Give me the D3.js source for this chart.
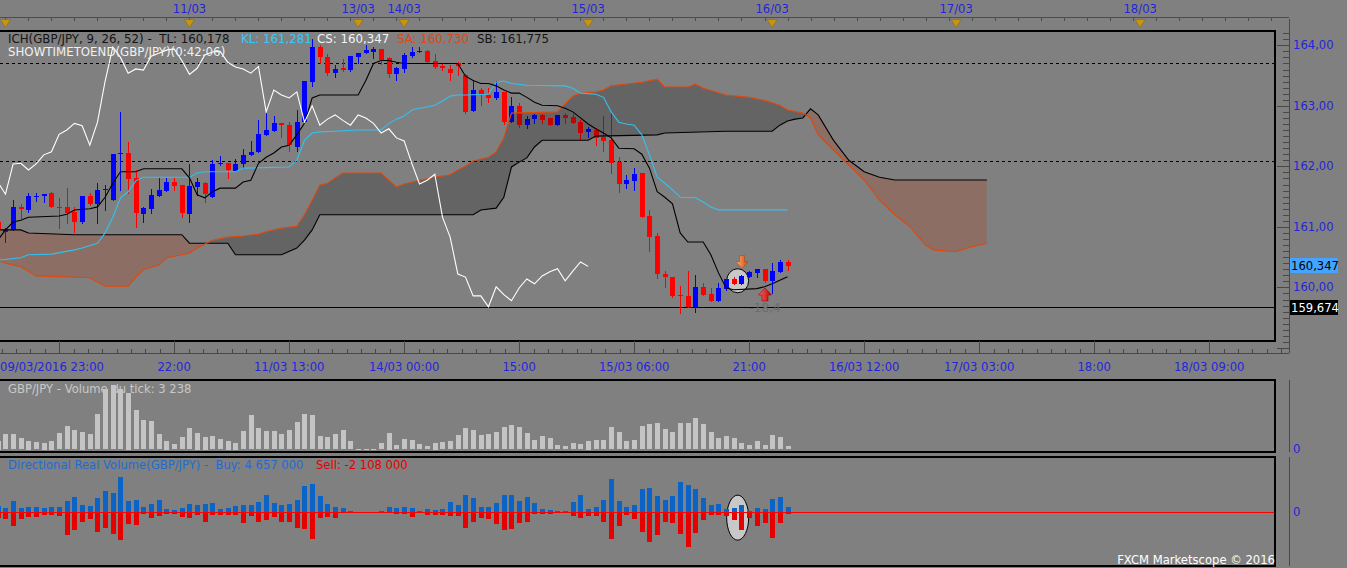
<!DOCTYPE html>
<html><head><meta charset="utf-8">
<script src="https://cdn.jsdelivr.net/npm/d3@7"></script>
<style>
html,body{margin:0;padding:0;background:#808080;overflow:hidden;}
svg{display:block;font-family:"DejaVu Sans",sans-serif;font-size:11.6px;}
svg text{white-space:pre;}
</style></head><body>
<svg id="c" width="1347" height="568"></svg>
<script>
// ---------------- DATA ----------------
const open=[161.08,160.92,160.95,161.33,161.28,161.49,161.51,161.56,161.33,161.33,
161.25,161.08,161.51,161.38,161.61,161.44,162.20,162.22,161.81,161.21,
161.30,161.51,161.59,161.74,161.69,161.21,161.66,161.72,161.49,162.04,
162.05,161.92,162.04,162.19,162.24,162.52,162.58,162.71,162.68,162.32,
162.73,163.39,163.97,163.80,163.54,163.62,163.59,163.80,163.87,163.89,
163.94,163.79,163.52,163.61,163.82,163.89,163.90,163.74,163.65,163.61,
163.70,163.51,162.91,163.26,163.18,163.13,163.23,162.73,163.00,162.68,
162.78,162.85,162.80,162.68,162.85,162.81,162.73,162.57,162.60,162.48,
162.43,162.07,161.71,161.76,161.89,161.18,160.85,160.22,160.17,159.88,
159.86,159.68,160.01,159.89,159.78,159.98,160.14,160.06,160.17,160.24,
160.31,160.11,160.26,160.42];
const high=[161.11,160.98,161.44,161.38,161.56,161.56,161.55,161.58,161.48,161.64,
161.33,161.51,161.56,161.72,161.69,162.20,162.90,162.40,161.94,161.33,
161.63,161.81,161.81,161.81,161.69,162.04,161.81,161.74,162.10,162.17,
162.05,162.12,162.29,162.42,162.76,162.88,162.83,162.71,162.73,162.93,
163.41,164.10,164.00,163.85,163.67,163.77,163.82,163.87,164.00,163.97,
163.94,163.80,163.64,163.87,163.97,163.97,163.92,163.85,163.70,163.67,
163.72,163.52,163.42,163.29,163.29,163.41,163.23,163.14,163.04,162.83,
162.86,162.86,162.80,162.85,162.88,162.86,162.76,162.65,162.63,162.83,
162.90,162.15,161.86,161.97,161.89,161.28,160.90,160.27,160.17,160.02,
160.27,160.21,160.07,159.99,160.07,160.14,160.17,160.21,160.27,160.31,
160.31,160.40,160.45,160.45];
const low=[160.92,160.75,160.95,161.15,161.25,161.43,161.41,161.33,160.98,161.06,
160.92,161.06,161.36,161.06,161.28,161.44,161.61,161.56,161.00,161.08,
161.23,161.51,161.59,161.61,161.16,161.08,161.53,161.41,161.49,162.02,
161.81,161.92,161.97,162.19,162.24,162.52,162.58,162.48,162.25,162.25,
162.71,163.33,163.70,163.51,163.47,163.57,163.57,163.70,163.87,163.79,
163.69,163.47,163.42,163.56,163.80,163.89,163.72,163.62,163.59,163.42,
163.51,162.88,162.91,163.01,163.06,163.11,162.70,162.73,162.65,162.63,
162.71,162.71,162.68,162.68,162.71,162.71,162.43,162.48,162.35,162.25,
161.89,161.58,161.64,161.61,161.16,160.60,160.16,160.01,159.84,159.58,
159.68,159.60,159.88,159.78,159.78,159.96,160.06,160.06,160.17,160.17,
160.09,159.91,160.26,160.29];
const close=[160.95,160.95,161.33,161.30,161.51,161.51,161.54,161.33,161.31,161.23,
161.08,161.51,161.38,161.61,161.63,162.20,162.22,161.79,161.23,161.31,
161.53,161.61,161.74,161.67,161.23,161.67,161.74,161.54,162.04,162.05,
161.94,162.04,162.19,162.24,162.53,162.60,162.71,162.67,162.35,162.73,
163.41,163.97,163.80,163.54,163.61,163.59,163.82,163.87,163.92,163.94,
163.75,163.52,163.62,163.84,163.89,163.90,163.72,163.64,163.61,163.54,
163.65,162.90,163.26,163.18,163.13,163.23,162.73,163.00,162.68,162.78,
162.85,162.76,162.68,162.85,162.80,162.71,162.55,162.62,162.47,162.42,
162.05,161.71,161.77,161.87,161.16,160.83,160.22,160.17,159.86,159.86,
159.68,160.01,159.88,159.78,159.99,160.14,160.06,160.19,160.26,160.31,
160.11,160.27,160.42,160.347];
const tickVolume=[8700,15300,15300,11300,8700,7300,6700,8700,16000,23300,
19300,17700,15300,35300,60000,64300,60000,56700,39300,29300,
28300,15300,8700,5300,12000,21000,16700,12700,13300,10300,
8700,6700,18300,34300,21000,18300,18300,15300,19300,27000,
35300,34300,13300,12000,15300,19300,8300,700,700,700,
6000,16700,4300,10300,9300,5300,3300,6700,7300,8300,
14300,21000,19300,14300,15300,17300,22300,24300,22300,16300,
9300,13300,11000,4300,3300,6300,5300,8700,9300,9300,
22300,17300,8300,9300,23300,25300,26300,20300,17300,26300,
26300,31300,25300,17300,11300,13300,11300,6300,4300,8300,
4300,14300,12300,3238];
// directional real volume, thousands
const buyVolume=[5550,4150,9950,4150,4650,4650,3800,4650,4400,9950,
13450,6400,5550,12600,18750,17000,31050,9950,10800,4650,
7300,10800,2900,2000,3800,7300,6400,7300,8200,2900,
3800,5550,6400,6400,9050,15200,8200,6400,7300,10800,
23150,24900,14350,7300,4650,3800,1150,0,0,0,
1150,4650,3800,4650,3800,1150,2900,2000,2900,9050,
6400,15200,12600,4650,4650,8200,15200,15200,9950,13450,
8200,2900,2000,1150,1150,9050,15200,2900,4650,10800,
29300,9950,4650,6400,20500,21400,14350,10800,14350,26650,
24000,20500,12600,6400,7300,2900,3800,6400,1150,3800,
2900,11700,13450,4657];
const sellVolume=[-5300,-5900,-12600,-5900,-4150,-4150,-2900,-2900,-3500,-20500,
-16100,-9050,-6400,-17850,-14350,-19600,-24900,-10800,-11700,-2000,
-5550,-3800,-1500,-1500,-4650,-5550,-2900,-9050,-2400,-2900,
-2900,-2900,-9950,-3800,-9050,-7300,-4650,-9050,-9050,-14350,
-15200,-24000,-5550,-4650,-5550,-1150,0,0,0,0,
0,-1150,-2000,-2000,-4650,0,-2900,-2900,-2900,-3800,
-3800,-14350,-9050,-5550,-6400,-10800,-16100,-15200,-9950,-9050,
-2000,-2000,-2000,0,0,-3800,-5550,-3800,-3800,-9050,
-24000,-12600,-2900,-6400,-17850,-26650,-20500,-9050,-9950,-19600,
-31050,-18750,-7300,-2900,-2900,-3800,-7300,-16100,-5550,-12600,
-9950,-23150,-9950,-2108];
// Ichimoku lines read as [bar, price] vertices
const tenkanPts=[[0,160.78],[1,160.95],[2,161.08],[3,161.11],[4,161.16],[8,161.18],[9,161.21],[10,161.28],[12,161.30],[13,161.33],[14,161.49],[15,161.72],[16,161.91],[18,161.91],[19,161.96],[24,161.96],[25,161.81],[26,161.53],[27,161.48],[28,161.58],[29,161.64],[31,161.64],[32,161.74],[33,161.77],[34,162.05],[35,162.15],[36,162.22],[37,162.32],[38,162.35],[39,162.52],[40,162.71],[41,163.13],[42,163.18],[47,163.18],[48,163.42],[49,163.70],[50,163.75],[51,163.75],[52,163.72],[53,163.70],[60,163.70],[61,163.49],[62,163.42],[63,163.37],[64,163.37],[65,163.33],[66,163.26],[67,163.21],[68,163.21],[69,163.14],[70,163.06],[71,163.01],[73,163.00],[74,162.96],[75,162.90],[76,162.80],[77,162.70],[78,162.62],[79,162.55],[80,162.47],[81,162.30],[83,162.29],[84,162.20],[85,161.97],[86,161.58],[87,161.49],[88,161.38],[89,160.90],[90,160.75],[92,160.75],[93,160.54],[94,160.24],[95,159.99],[96,159.96],[99,159.98],[100,160.01],[101,160.06],[102,160.12],[103,160.178]];
const kijunPts=[[0,160.45],[3,160.49],[4,160.54],[7,160.55],[10,160.62],[11,160.65],[13,160.73],[14,160.90],[15,161.16],[16,161.48],[17,161.58],[18,161.76],[19,161.82],[25,161.82],[26,161.89],[27,161.91],[31,161.91],[32,161.97],[38,161.99],[39,162.10],[40,162.43],[41,162.55],[42,162.57],[44,162.58],[47,162.60],[50,162.60],[51,162.71],[52,162.78],[53,162.83],[54,162.93],[55,162.96],[56,162.98],[57,163.01],[58,163.08],[59,163.16],[60,163.18],[61,163.18],[64,163.19],[65,163.39],[66,163.41],[67,163.37],[69,163.34],[74,163.33],[75,163.29],[76,163.21],[78,163.19],[79,163.14],[80,162.90],[81,162.73],[82,162.70],[83,162.68],[84,162.52],[85,162.19],[86,161.82],[87,161.72],[88,161.61],[89,161.49],[91,161.48],[92,161.41],[93,161.33],[94,161.281],[103,161.281]];
const spanAPts=[[0,160.45],[1,160.40],[3,160.34],[5,160.19],[12,160.16],[13,160.09],[14,160.02],[17,160.02],[18,160.17],[19,160.29],[21,160.37],[22,160.49],[24,160.54],[25,160.57],[26,160.65],[28,160.78],[30,160.83],[32,160.85],[34,160.88],[35,160.92],[37,160.98],[39,161.01],[40,161.20],[41,161.44],[42,161.69],[43,161.72],[44,161.81],[45,161.89],[50,161.89],[51,161.77],[52,161.66],[53,161.71],[55,161.77],[57,161.82],[59,161.86],[60,161.94],[61,162.00],[62,162.09],[64,162.15],[65,162.24],[66,162.47],[67,162.88],[73,162.90],[74,163.03],[75,163.16],[76,163.21],[78,163.23],[79,163.26],[80,163.33],[82,163.36],[84,163.39],[86,163.44],[87,163.31],[90,163.31],[91,163.36],[92,163.29],[95,163.18],[98,163.14],[100,163.09],[102,163.01],[103,162.93],[105,162.88],[106,162.80],[107,162.52],[109,162.27],[111,162.02],[113,161.77],[115,161.44],[117,161.20],[119,161.00],[121,160.70],[122,160.62],[125,160.59],[127,160.67],[129,160.73]];
const spanBPts=[[0,160.95],[3,160.95],[4,160.90],[10,160.87],[24,160.87],[25,160.73],[30,160.73],[31,160.54],[37,160.54],[39,160.65],[40,160.78],[41,160.95],[42,161.20],[62,161.20],[63,161.28],[65,161.31],[66,161.49],[67,161.99],[68,162.07],[69,162.14],[70,162.32],[71,162.43],[77,162.43],[78,162.50],[86,162.52],[87,162.55],[95,162.58],[101,162.58],[102,162.68],[103,162.75],[104,162.78],[105,162.80],[106,162.95],[107,162.85],[109,162.43],[111,162.10],[113,161.91],[115,161.82],[117,161.775],[129,161.775]];
const chikouShift=26;
const legendVals={TL:160.178,KL:161.281,CS:160.347,SA:160.730,SB:161.775};
const priceTicks=[160,161,162,163,164];
const dayLabels=["","11/03","13/03","14/03","15/03","16/03","17/03","18/03"];
const dayIdx=[1,25,47,53,77,101,125,149];
const timeLabels=["22:00","11/03 13:00","14/03 00:00","15:00","15/03 06:00","21:00","16/03 12:00","17/03 03:00","18:00","18/03 09:00"];
const timeIdx=[23,38,53,68,83,98,113,128,143,158];
const firstTimeLabel="09/03/2016 23:00";
const levelsDashed=[163.70,162.09];
const levelSolid=159.674;
const lastPrice=160.347;
const signals=[{i:97,p:160.31,dir:"down",label:""},{i:100,p:159.99,dir:"up",label:"-18,4"}];
const marker={i:96.5,p:160.11,dv:-4700};
const tickVolumeLast=3238, buyLast=4657000, sellLast=-2108000;

// ---------------- DRAW ----------------
(function(){
const W=1347,H=568;
const svg=d3.select("#c");
const STEP=7.667, X0=-2.2;
const x=d3.scaleLinear().domain([0,129]).range([X0,X0+129*STEP]);
const y=d3.scaleLinear().domain([160,164]).range([287.4,45.3]);
const vy=d3.scaleLinear().domain([0,66000]).range([449.3,383.3]);
const dy=d3.scaleLinear().domain([-44000,44000]).range([512.3+50,512.3-50]);
const loc=d3.formatLocale({decimal:",",thousands:" ",grouping:[3],currency:["",""],minus:"-"});
const f2=loc.format(".2f"), f3=loc.format(".3f"), fInt=loc.format(",d");
const PR=1275, MT=31, MB=341, AX=1289;
const BLUE="#2424dc";
const rx=i=>Math.round(x(i));

svg.append("rect").attr("width",W).attr("height",H).attr("fill","#808080");
const defs=svg.append("defs");
defs.append("clipPath").attr("id","mainClip").append("rect").attr("x",0).attr("y",MT).attr("width",PR).attr("height",MB-MT);

// ---- top date strip ----
const topG=svg.append("g").attr("shape-rendering","crispEdges");
topG.append("line").attr("x1",0).attr("x2",AX).attr("y1",17.5).attr("y2",17.5).attr("stroke","#4c4c4c");
topG.selectAll("line.t").data(d3.range(1,175,3).filter(i=>x(i)<AX)).join("line")
  .attr("x1",d=>rx(d)+0.5).attr("x2",d=>rx(d)+0.5).attr("y1",17.5).attr("y2",21).attr("stroke","#4c4c4c");
svg.append("g").selectAll("path").data(dayIdx).join("path")
  .attr("d",d=>{const c=x(d);return `M${c-5},19.5L${c+5},19.5L${c},27.5Z`;})
  .attr("fill","#c8960e").attr("stroke","#8c6a0c").attr("stroke-width",0.6);
svg.append("g").selectAll("text").data(dayLabels).join("text")
  .attr("x",(d,k)=>x(dayIdx[k])).attr("y",12.5).attr("text-anchor","middle").attr("fill",BLUE).text(d=>d);

// ---- main panel ----
const mainG=svg.append("g").attr("clip-path","url(#mainClip)");
mainG.selectAll("line.dash").data(levelsDashed).join("line")
  .attr("x1",0).attr("x2",PR).attr("y1",d=>Math.round(y(d))+0.5).attr("y2",d=>Math.round(y(d))+0.5)
  .attr("stroke","#000").attr("stroke-dasharray","3,3").attr("shape-rendering","crispEdges");
mainG.append("line").attr("x1",0).attr("x2",PR).attr("y1",Math.round(y(levelSolid))+0.5).attr("y2",Math.round(y(levelSolid))+0.5)
  .attr("stroke","#000").attr("shape-rendering","crispEdges");

mainG.append("ellipse").attr("cx",x(marker.i)).attr("cy",y(marker.p)).attr("rx",11).attr("ry",12)
  .attr("fill","#c8c8c8").attr("stroke","#000").attr("stroke-width",1);

const idx=d3.range(open.length);
const cg=mainG.append("g").attr("shape-rendering","crispEdges");
cg.selectAll("line").data(idx).join("line")
  .attr("x1",i=>rx(i)+0.5).attr("x2",i=>rx(i)+0.5)
  .attr("y1",i=>Math.round(y(high[i]))).attr("y2",i=>Math.round(y(low[i]))+1)
  .attr("stroke",i=>close[i]>=open[i]?"#0000ff":"#ff0000");
cg.selectAll("rect").data(idx).join("rect")
  .attr("x",i=>rx(i)-2).attr("width",5)
  .attr("y",i=>Math.round(y(Math.max(open[i],close[i]))))
  .attr("height",i=>Math.max(1,Math.round(Math.abs(y(open[i])-y(close[i])))))
  .attr("fill",i=>close[i]>=open[i]?"#0000ff":"#ff0000");

const areaBelow=d3.area().x(d=>x(d[0])).y0(1000).y1(d=>y(d[1]));
const areaAbove=d3.area().x(d=>x(d[0])).y0(-1000).y1(d=>y(d[1]));
defs.append("clipPath").attr("id","aboveSB").append("path").attr("d",areaAbove(spanBPts));
defs.append("clipPath").attr("id","aboveSA").append("path").attr("d",areaAbove(spanAPts));
mainG.append("g").attr("clip-path","url(#aboveSB)").append("path").attr("d",areaBelow(spanAPts)).attr("fill","rgba(0,0,0,0.22)");
mainG.append("g").attr("clip-path","url(#aboveSA)").append("path").attr("d",areaBelow(spanBPts)).attr("fill","rgba(176,56,16,0.25)");

const ln=d3.line().x(d=>x(d[0])).y(d=>y(d[1]));
const chikou=d3.range(0,close.length-chikouShift).map(i=>[i,close[i+chikouShift]]);
[[spanBPts,"#000"],[spanAPts,"#e0480c"],[kijunPts,"#33c0f0"],[tenkanPts,"#000"],[chikou,"#ffffff"]].forEach(([pts,col])=>{
  mainG.append("path").attr("d",ln(pts)).attr("fill","none").attr("stroke",col).attr("stroke-width",1.1);
});

const grd1=defs.append("linearGradient").attr("id","gDown").attr("x1",0).attr("x2",1);
grd1.append("stop").attr("offset",0).attr("stop-color","#f8b070");grd1.append("stop").attr("offset",1).attr("stop-color","#d84a14");
const grd2=defs.append("linearGradient").attr("id","gUp").attr("x1",0).attr("x2",1);
grd2.append("stop").attr("offset",0).attr("stop-color","#ff6a6a");grd2.append("stop").attr("offset",1).attr("stop-color","#b80000");
signals.forEach(s=>{
  const cx=x(s.i)+0.5, ty=y(s.p);
  let d;
  if(s.dir==="down") d=`M${cx-2.5},${ty-13}h5v6h3.5L${cx},${ty}L${cx-6},${ty-7}h3.5Z`;
  else d=`M${cx-3},${ty+13}h6v-6h3.5L${cx},${ty}L${cx-6.5},${ty+7}h3.5Z`;
  mainG.append("path").attr("d",d).attr("fill",s.dir==="down"?"url(#gDown)":"url(#gUp)").attr("stroke",s.dir==="down"?"#a84010":"#800000").attr("stroke-width",0.5);
  if(s.label) mainG.append("text").attr("x",cx).attr("y",y(levelSolid)+5).attr("text-anchor","middle").attr("font-size","12px").attr("fill","#6c6c6c").text(s.label);
});

const lg=svg.append("text").attr("y",43).attr("font-size","11.8px");
lg.append("tspan").attr("x",8).attr("fill","#141414").text(`ICH(GBP/JPY, 9, 26, 52) -  TL: ${f3(legendVals.TL)}`);
lg.append("tspan").attr("x",241).attr("fill","#38c8f8").text(`KL: ${f3(legendVals.KL)}`);
lg.append("tspan").attr("x",317).attr("fill","#f4f4f4").text(`CS: ${f3(legendVals.CS)}`);
lg.append("tspan").attr("x",397).attr("fill","#d84a16").text(`SA: ${f3(legendVals.SA)}`);
lg.append("tspan").attr("x",477).attr("fill","#141414").text(`SB: ${f3(legendVals.SB)}`);
svg.append("text").attr("x",8).attr("y",56).attr("font-size","11.8px").attr("fill","#f0f0f0").text("SHOWTIMETOEND(GBP/JPY)(0:42:06)");

const fr=svg.append("g").attr("shape-rendering","crispEdges").attr("fill","none");
fr.append("path").attr("d",`M0,${MT}H${PR}V${MB}H0`).attr("stroke","#000").attr("stroke-width",2);

const ax=svg.append("g").attr("shape-rendering","crispEdges");
ax.append("line").attr("x1",AX+0.5).attr("x2",AX+0.5).attr("y1",MT-12).attr("y2",353).attr("stroke","#484848");
const minorP=d3.range(1589,1644).map(v=>v/10).filter(p=>y(p)>MT-2&&y(p)<353);
ax.selectAll("line.m").data(minorP).join("line")
  .attr("x1",p=>Math.abs(p-Math.round(p))<1e-6?1277:1283).attr("x2",AX)
  .attr("y1",p=>Math.round(y(p))+0.5).attr("y2",p=>Math.round(y(p))+0.5).attr("stroke","#484848");
svg.append("g").selectAll("text").data(priceTicks).join("text")
  .attr("x",1293).attr("y",p=>y(p)+4).attr("fill",BLUE).text(p=>f2(p));
svg.append("rect").attr("x",1290).attr("y",Math.round(y(lastPrice))-8).attr("width",48).attr("height",15).attr("fill","#44a4ff");
svg.append("text").attr("x",1291).attr("y",Math.round(y(lastPrice))+4).attr("fill","#000").text(f3(lastPrice));
svg.append("rect").attr("x",1290).attr("y",Math.round(y(levelSolid))-7).attr("width",48).attr("height",15).attr("fill","#000");
svg.append("text").attr("x",1291).attr("y",Math.round(y(levelSolid))+5).attr("fill","#fff").text(f3(levelSolid));

const ta=svg.append("g").attr("shape-rendering","crispEdges");
ta.append("line").attr("x1",0).attr("x2",AX).attr("y1",353.5).attr("y2",353.5).attr("stroke","#484848");
const majors=[8].concat(timeIdx).filter(i=>x(i)<AX);
ta.selectAll("line.M").data(majors).join("line").attr("x1",i=>rx(i)+0.5).attr("x2",i=>rx(i)+0.5).attr("y1",MB).attr("y2",353).attr("stroke","#484848");
ta.selectAll("line.n").data(d3.range(8-15,175,15/8).filter(i=>x(i)>0&&x(i)<AX)).join("line")
  .attr("x1",i=>rx(i)+0.5).attr("x2",i=>rx(i)+0.5).attr("y1",349).attr("y2",353).attr("stroke","#484848");
svg.append("g").selectAll("text").data(timeLabels).join("text")
  .attr("x",(d,k)=>x(timeIdx[k])).attr("y",371).attr("text-anchor","middle").attr("fill",BLUE).text(d=>d);
svg.append("text").attr("x",0).attr("y",371).attr("fill",BLUE).text(firstTimeLabel);

// volume panel (label first, bars over it as in the reference)
svg.append("text").attr("x",8).attr("y",393).attr("fill","#c8c8c8").text(`GBP/JPY - Volume du tick: ${fInt(tickVolumeLast)}`);
const vp=svg.append("g").attr("shape-rendering","crispEdges");
vp.selectAll("rect").data(idx).join("rect")
  .attr("x",i=>rx(i)-2).attr("width",5)
  .attr("y",i=>Math.round(vy(tickVolume[i]))).attr("height",i=>Math.max(1,Math.round(vy(0)-vy(tickVolume[i]))))
  .attr("fill","#c4c4c4");
vp.append("path").attr("d",`M0,380H${PR}V452H0`).attr("fill","none").attr("stroke","#000").attr("stroke-width",2);
vp.append("line").attr("x1",AX+0.5).attr("x2",AX+0.5).attr("y1",380).attr("y2",452).attr("stroke","#484848");
svg.append("text").attr("x",1293).attr("y",vy(0)+4).attr("fill",BLUE).text("0");

const dp=svg.append("g");
dp.append("ellipse").attr("cx",x(marker.i)).attr("cy",dy(marker.dv)).attr("rx",11).attr("ry",22.5).attr("fill","#c8c8c8").attr("stroke","#000");
const db=dp.append("g").attr("shape-rendering","crispEdges");
db.selectAll("rect.b").data(idx.filter(i=>buyVolume[i]>0)).join("rect")
  .attr("x",i=>rx(i)-2).attr("width",5).attr("y",i=>Math.round(dy(buyVolume[i])))
  .attr("height",i=>Math.max(1,Math.round(dy(0)-dy(buyVolume[i])))).attr("fill","#0a64c8");
db.selectAll("rect.s").data(idx.filter(i=>sellVolume[i]<0)).join("rect")
  .attr("x",i=>rx(i)-2).attr("width",5).attr("y",Math.round(dy(0)))
  .attr("height",i=>Math.max(1,Math.round(dy(sellVolume[i])-dy(0)))).attr("fill","#e60000");
db.append("line").attr("x1",0).attr("x2",PR).attr("y1",Math.round(dy(0))+0.5).attr("y2",Math.round(dy(0))+0.5).attr("stroke","#ff0000");
db.append("path").attr("d",`M0,457H${PR}V566H0`).attr("fill","none").attr("stroke","#000").attr("stroke-width",2);
db.append("line").attr("x1",AX+0.5).attr("x2",AX+0.5).attr("y1",457).attr("y2",566).attr("stroke","#484848");
const dl=svg.append("text").attr("y",469);
dl.append("tspan").attr("x",8).attr("fill","#1f6cd0").text(`Directional Real Volume(GBP/JPY) -  Buy: ${fInt(buyLast)}`);
dl.append("tspan").attr("x",316).attr("fill","#e00000").text(`Sell: ${fInt(sellLast)}`);
svg.append("text").attr("x",1293).attr("y",dy(0)+4).attr("fill",BLUE).text("0");
svg.append("text").attr("x",1275).attr("y",564).attr("text-anchor","end").attr("fill","#ffffff").text("FXCM Marketscope © 2016");
})();
</script>
</body></html>
